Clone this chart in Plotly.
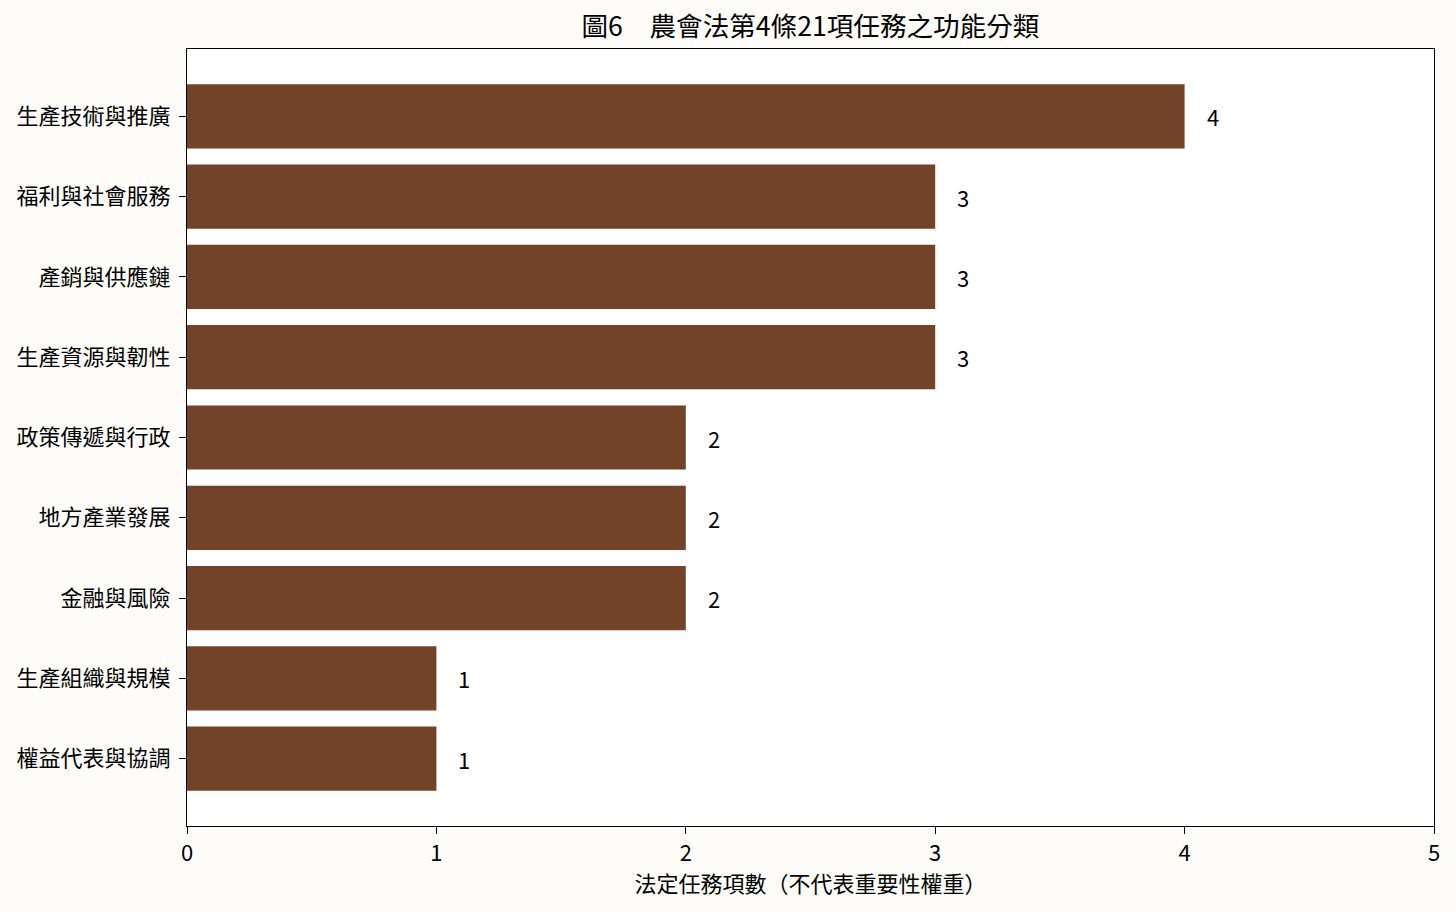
import plotly.graph_objects as go

categories = ["生產技術與推廣", "福利與社會服務", "產銷與供應鏈", "生產資源與韌性",
              "政策傳遞與行政", "地方產業發展", "金融與風險", "生產組織與規模", "權益代表與協調"]
values = [4, 3, 3, 3, 2, 2, 2, 1, 1]
x_ticks = [0, 1, 2, 3, 4, 5]

FONT = "Noto Sans CJK TC"
BAR = "#724328"
BG = "#fdfcf8"
FS = 22

fig = go.Figure()
fig.add_trace(go.Bar(
    y=categories, x=values, orientation="h",
    marker=dict(color=BAR, line=dict(width=0)),
    width=0.8, hoverinfo="skip",
))

annotations = [
    dict(x=v + 0.08, y=c, xref="x", yref="y", text=str(v), showarrow=False,
         xanchor="left", yanchor="middle", font=dict(family=FONT, size=FS, color="#000"))
    for c, v in zip(categories, values)
]

fig.update_layout(
    width=1456, height=912,
    margin=dict(l=187, r=22, t=49, b=86),
    paper_bgcolor=BG, plot_bgcolor="#ffffff",
    font=dict(family=FONT, size=FS, color="#000"),
    showlegend=False,
    title=dict(text="圖6　農會法第4條21項任務之功能分類", x=810.5 / 1456,
               xanchor="center", y=1 - 27 / 912, yanchor="middle",
               font=dict(family=FONT, size=26.6, color="#000")),
    annotations=annotations,
)
fig.update_xaxes(
    range=[0, 5], tickvals=x_ticks, ticktext=[str(t) for t in x_ticks],
    showgrid=False, zeroline=False,
    showline=True, linecolor="#000", linewidth=1.2, mirror=True,
    ticks="outside", ticklen=7, tickcolor="#000", tickwidth=1,
    tickfont=dict(family=FONT, size=FS),
    title=dict(text="法定任務項數（不代表重要性權重）", font=dict(family=FONT, size=FS), standoff=6),
)
fig.update_yaxes(
    categoryorder="array", categoryarray=categories,
    range=[len(categories) - 1 + 0.84, -0.84],
    showgrid=False, zeroline=False,
    showline=True, linecolor="#000", linewidth=1.2, mirror=True,
    ticks="outside", ticklen=7, tickcolor="#000", tickwidth=1,
    ticklabelstandoff=4,
    tickfont=dict(family=FONT, size=FS),
)

fig.write_html(
    "out.html",
    config={"displayModeBar": False},
    post_script="document.body.style.margin='0';document.body.style.background='%s';" % BG,
)
